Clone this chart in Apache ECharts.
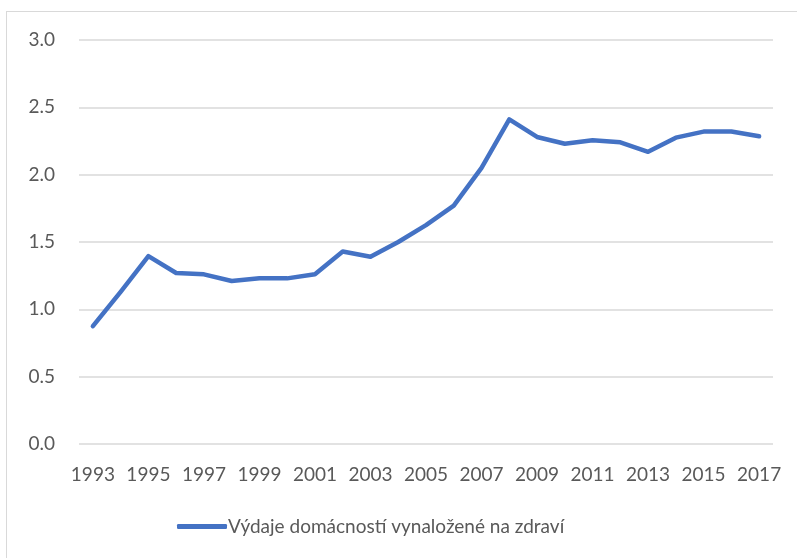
<!DOCTYPE html>
<html>
<head>
<meta charset="utf-8">
<script src="https://cdn.jsdelivr.net/npm/echarts@6/dist/echarts.min.js"></script>
<style>
  html, body { margin: 0; padding: 0; background: #fff; overflow: hidden; }
  #frame {
    position: absolute; left: 6px; top: 11px;
    width: 820px; height: 580px;
    border: 1.5px solid #d9d9d9;
  }
  #chart { position: absolute; left: 0; top: 0; width: 797px; height: 558px; }
</style>
</head>
<body>
<div id="frame"></div>
<div id="chart"></div>
<script>
var years = ['1993', '1994', '1995', '1996', '1997', '1998', '1999', '2000', '2001', '2002',
  '2003', '2004', '2005', '2006', '2007', '2008', '2009', '2010', '2011', '2012',
  '2013', '2014', '2015', '2016', '2017'];
var spending = [0.875, 1.13, 1.395, 1.27, 1.26, 1.21, 1.23, 1.23, 1.26, 1.43,
  1.39, 1.50, 1.625, 1.77, 2.05, 2.41, 2.28, 2.23, 2.255, 2.24,
  2.17, 2.275, 2.32, 2.32, 2.285];
var seriesName = 'Výdaje domácností vynaložené na zdraví';

(function () {
  var myChart = echarts.init(document.getElementById('chart'));
  var font = 'Lato, "Open Sans", sans-serif';
  var option = {
    animation: false,
    grid: { left: 79, right: 24, top: 40, bottom: 114 },
    legend: {
      top: 512,
      left: 172,
      itemWidth: 50,
      itemHeight: 5,
      itemGap: 0,
      icon: 'roundRect',
      textStyle: { color: '#595959', fontSize: 19, fontFamily: font, padding: [0, 0, 0, -4] },
      data: [seriesName]
    },
    xAxis: {
      type: 'category',
      data: years,
      boundaryGap: true,
      axisLine: { show: false },
      axisTick: { show: false },
      axisLabel: { interval: 1, color: '#595959', fontSize: 19, fontFamily: font, margin: 21 }
    },
    yAxis: {
      type: 'value',
      min: 0,
      max: 3,
      interval: 0.5,
      axisLine: { show: false },
      axisTick: { show: false },
      axisLabel: {
        color: '#595959', fontSize: 19, fontFamily: font, margin: 24,
        formatter: function (v) { return v.toFixed(1); }
      },
      splitLine: { lineStyle: { color: '#d9d9d9', width: 1.5 } }
    },
    series: [{
      name: seriesName,
      type: 'line',
      data: spending,
      symbol: 'none',
      lineStyle: { color: '#4472c4', width: 4.5, cap: 'round', join: 'round' },
      itemStyle: { color: '#4472c4' }
    }]
  };
  myChart.setOption(option);
  window.addEventListener('resize', function () {
    myChart.resize();
  });
})();
</script>
</body>
</html>
